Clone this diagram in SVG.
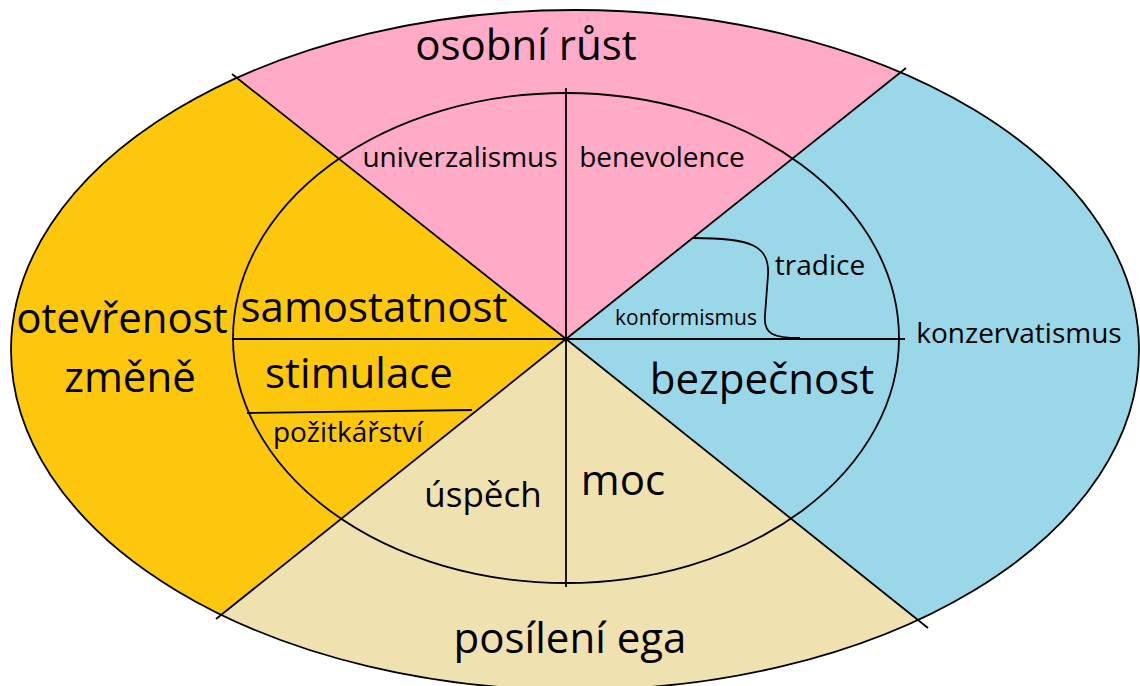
<svg xmlns="http://www.w3.org/2000/svg" width="1140" height="686" viewBox="0 0 1140 686">
<style>
.l{font-family:"Open Sans","Noto Sans","DejaVu Sans",sans-serif;fill:#000;text-anchor:middle}
.big{font-size:42px}
.mid{font-size:28px}
.ln{stroke:#000;stroke-width:1.8;fill:none}
</style>
<defs>
<clipPath id="outer"><ellipse cx="575" cy="350" rx="564" ry="340"/></clipPath>
</defs>
<rect width="1140" height="686" fill="#fff"/>
<g id="sectors" clip-path="url(#outer)">
<polygon id="sector-osobni-rust" points="566,339 -90,-185 1238,-195" fill="#FFABC8"/>
<polygon id="sector-otevrenost" points="566,339 -90,-185 -126,891" fill="#FDC70D"/>
<polygon id="sector-konzervatismus" points="566,339 1238,-195 1274,905" fill="#9AD8E9"/>
<polygon id="sector-posileni-ega" points="566,339 -126,891 1274,905" fill="#EFE2B0"/>
</g>
<g id="ellipses">
<ellipse id="outer-ring" class="ln" cx="575" cy="350" rx="564" ry="340"/>
<ellipse id="inner-ring" class="ln" cx="566" cy="338" rx="333" ry="245"/>
</g>
<g id="connectors">
<line class="ln" x1="566" y1="339" x2="232" y2="74"/>
<line class="ln" x1="566" y1="339" x2="906" y2="68"/>
<line class="ln" x1="566" y1="339" x2="216" y2="619"/>
<line class="ln" x1="566" y1="339" x2="928" y2="628"/>
<line class="ln" x1="566" y1="88" x2="566" y2="587"/>
<line class="ln" x1="232" y1="339" x2="905" y2="339"/>
<line class="ln" x1="247" y1="413" x2="472" y2="410"/>
<path class="ln" d="M693,238 C750,238 770,245 768,275 L765,315 C763,335 775,338 800,338"/>
</g>
<g id="label-osobni-rust"><text class="l big" x="526" y="60">osobní růst</text></g>
<g id="label-univerzalismus"><text class="l mid" x="460" y="167">univerzalismus</text></g>
<g id="label-benevolence"><text class="l mid" x="662" y="167">benevolence</text></g>
<g id="label-samostatnost"><text class="l big" x="374" y="322">samostatnost</text></g>
<g id="label-stimulace"><text class="l big" x="359" y="388">stimulace</text></g>
<g id="label-pozitkarstvi"><text class="l mid" x="348" y="442">požitkářství</text></g>
<g id="label-otevrenost"><text class="l big" x="122" y="333">otevřenost</text><text class="l big" x="130" y="392">změně</text></g>
<g id="label-tradice"><text class="l mid" x="820" y="275">tradice</text></g>
<g id="label-konformismus"><text class="l" font-size="21" x="686" y="325">konformismus</text></g>
<g id="label-konzervatismus"><text class="l mid" x="1019" y="343">konzervatismus</text></g>
<g id="label-bezpecnost"><text class="l big" x="762" y="394">bezpečnost</text></g>
<g id="label-uspech"><text class="l" font-size="35" x="483" y="507">úspěch</text></g>
<g id="label-moc"><text class="l big" x="623" y="495">moc</text></g>
<g id="label-posileni-ega"><text class="l big" x="570" y="653">posílení ega</text></g>
</svg>
